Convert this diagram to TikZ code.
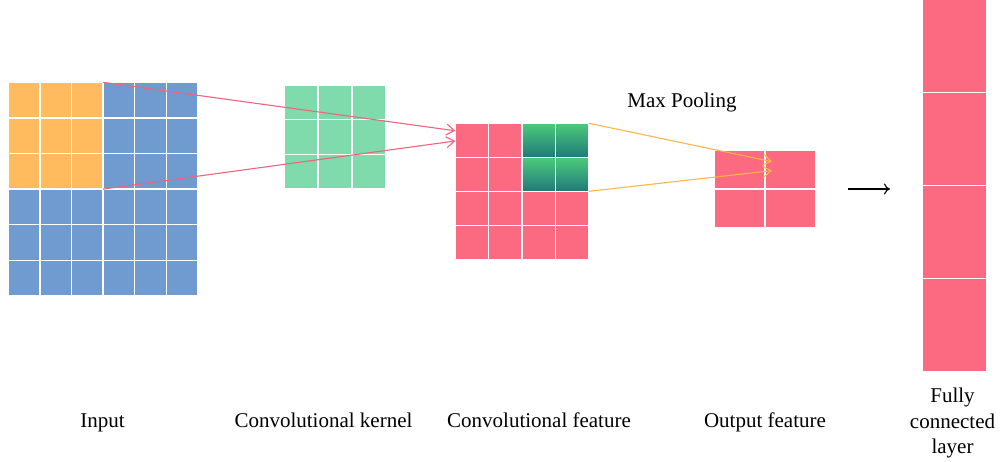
\documentclass[tikz,border=0pt]{standalone}
\usepackage{fontspec}
\setmainfont{Liberation Serif}
\usetikzlibrary{arrows.meta,calc}

\definecolor{inblue}{HTML}{6F9BD1}
\definecolor{inorange}{HTML}{FFBB5E}
\definecolor{kgreen}{HTML}{7FDBAB}
\definecolor{fpink}{HTML}{FC6A81}
\definecolor{gtop}{HTML}{4DCA7B}
\definecolor{gbot}{HTML}{1F7A79}
\definecolor{redline}{HTML}{F2637C}
\definecolor{orangeline}{HTML}{FFB547}

\tikzset{
  cell/.style={draw=white, line width=1.3pt, inner sep=0pt, outer sep=0pt,
    minimum width=#1},
  cellh/.style={minimum height=#1},
  conn/.style={line width=1.1pt, -{Straight Barb[length=8pt,width=11pt]}},
  lbl/.style={font=\fontsize{21}{25.5}\selectfont, inner sep=0pt, anchor=base, align=center},
}

\begin{document}
\begin{tikzpicture}[x=1pt, y=-1pt]
\useasboundingbox (0,0) rectangle (1000,461);

% input map, 6x6, with the 3x3 receptive field in orange
\foreach \r in {0,...,5}
  \foreach \c in {0,...,5}{
    \pgfmathsetmacro{\isfield}{(\r<3)&&(\c<3)}
    \ifdim\isfield pt>0.5pt \def\fc{inorange}\else\def\fc{inblue}\fi
    \node[cell=31.6pt, cellh=35.6pt, fill=\fc, anchor=north west]
      (in-\r-\c) at ({8.3+31.6*\c},{82.3+35.6*\r}) {};
  }

% convolutional kernel, 3x3
\foreach \r in {0,...,2}
  \foreach \c in {0,...,2}
    \node[cell=33.8pt, cellh=34.6pt, fill=kgreen, anchor=north west]
      (k-\r-\c) at ({284.3+33.8*\c},{85+34.6*\r}) {};

% convolutional feature map, 4x4, pooled window shaded
\foreach \r in {0,...,3}
  \foreach \c in {0,...,3}{
    \pgfmathsetmacro{\ispool}{(\r<2)&&(\c>1)}
    \ifdim\ispool pt>0.5pt
      \node[cell=33.4pt, cellh=34pt, top color=gtop, bottom color=gbot, anchor=north west]
        (cf-\r-\c) at ({455.3+33.4*\c},{123.3+34*\r}) {};
    \else
      \node[cell=33.4pt, cellh=34pt, fill=fpink, anchor=north west]
        (cf-\r-\c) at ({455.3+33.4*\c},{123.3+34*\r}) {};
    \fi
  }

% pooled output, 2x2
\foreach \r in {0,1}
  \foreach \c in {0,1}
    \node[cell=51pt, cellh=38.9pt, fill=fpink, anchor=north west]
      (of-\r-\c) at ({714+51*\c},{150+38.9*\r}) {};

% fully connected layer
\foreach \r in {0,...,3}
  \node[cell=64.7pt, cellh=93pt, fill=fpink, anchor=north west]
    (fc-\r) at (922,{-0.5+93*\r}) {};

% convolution connectors
\draw[conn, redline] (in-0-2.north east)
  -- ($(cf-0-0.north west)!0.22!(cf-0-0.south west)$);
\draw[conn, redline] (in-2-2.south east)
  -- ($(cf-0-0.north west)!0.52!(cf-0-0.south west)$);

% pooling connectors
\draw[conn, orangeline] (cf-0-3.north east)
  -- ($(of-0-1.north west)!0.30!(of-0-1.south west)+(7,0)$);
\draw[conn, orangeline] (cf-1-3.south east)
  -- ($(of-0-1.north west)!0.53!(of-0-1.south west)+(7,0)$);

% flatten arrow
\coordinate (flat-a) at (848.3,189);
\coordinate (flat-b) at (890,189);
\draw[line width=1.1pt, -{To[length=6pt,width=11pt]}] (flat-a) -- (flat-b);

% labels
\node[lbl] (t-pool) at (682,107.3) {Max Pooling};
\node[lbl] (t-in) at (102.5,427.5) {Input};
\node[lbl] (t-k) at (323.5,427.5) {Convolutional kernel};
\node[lbl] (t-cf) at (539,427.5) {Convolutional feature};
\node[lbl] (t-of) at (765,427.5) {Output feature};
\node[lbl] (t-fc) at (952.5,453.5) {Fully\\connected\\layer};
\end{tikzpicture}
\end{document}
